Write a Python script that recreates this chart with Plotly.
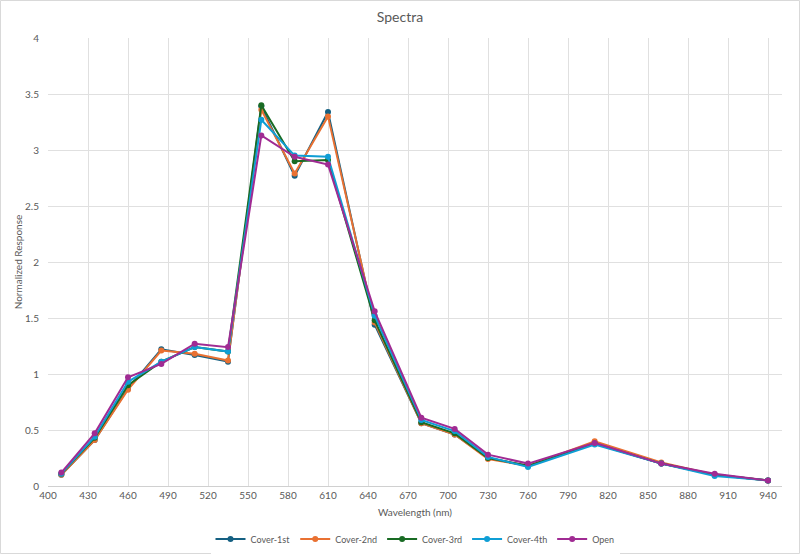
import plotly.graph_objects as go

wavelengths = [410, 435, 460, 485, 510, 535, 560, 585, 610, 645, 680, 705, 730, 760, 810, 860, 900, 940]

cover_1st = [0.10, 0.41, 0.87, 1.22, 1.17, 1.11, 3.39, 2.77, 3.34, 1.44, 0.56, 0.46, 0.25, 0.18, 0.38, 0.20, 0.10, 0.05]
cover_2nd = [0.10, 0.41, 0.86, 1.21, 1.18, 1.12, 3.36, 2.79, 3.30, 1.46, 0.56, 0.46, 0.24, 0.18, 0.40, 0.21, 0.10, 0.05]
cover_3rd = [0.11, 0.43, 0.90, 1.11, 1.24, 1.20, 3.40, 2.90, 2.91, 1.48, 0.57, 0.47, 0.25, 0.18, 0.38, 0.20, 0.10, 0.05]
cover_4th = [0.11, 0.44, 0.93, 1.11, 1.24, 1.20, 3.27, 2.95, 2.94, 1.52, 0.59, 0.49, 0.26, 0.17, 0.37, 0.20, 0.09, 0.05]
open_ = [0.12, 0.47, 0.97, 1.09, 1.27, 1.24, 3.13, 2.94, 2.87, 1.56, 0.61, 0.51, 0.28, 0.20, 0.385, 0.20, 0.11, 0.05]

series_names = ["Cover-1st", "Cover-2nd", "Cover-3rd", "Cover-4th", "Open"]
series_values = [cover_1st, cover_2nd, cover_3rd, cover_4th, open_]
colors = ["#156082", "#E97132", "#196B24", "#0F9ED5", "#A02B93"]

x_ticks = list(range(400, 941, 30))

fig = go.Figure()
for name, vals, c in zip(series_names, series_values, colors):
    fig.add_trace(go.Scatter(
        x=wavelengths, y=vals, name=name, mode="lines+markers",
        line=dict(color=c, width=2),
        marker=dict(color=c, size=6),
    ))

W, H = 800, 554
ml, mr, mt, mb = 48, 18, 38, 68
pw, ph = W - ml - mr, H - mt - mb

font_fam = "Lato, Open Sans, sans-serif"
fig.update_layout(
    width=W, height=H,
    margin=dict(l=ml, r=mr, t=mt, b=mb, autoexpand=False),
    paper_bgcolor="white", plot_bgcolor="white",
    font=dict(family=font_fam, color="#595959", size=10),
    title=dict(text="Spectra", x=0.5, xanchor="center", y=1 - 17 / H, yanchor="middle",
               font=dict(size=14, color="#595959")),
    showlegend=True,
    legend=dict(orientation="h", x=0.5, xanchor="center", yref="container", y=1 - 539 / H, yanchor="middle",
                font=dict(size=9, color="#595959"), itemwidth=30, tracegroupgap=0),
    xaxis=dict(range=[400, 950.5], tickvals=x_ticks, showgrid=True, gridcolor="#e0e0e0", gridwidth=1,
               zeroline=False, showline=True, linecolor="#d0d0d0", linewidth=1,
               ticks="", tickfont=dict(size=10, color="#595959"),
               title=dict(text="Wavelength (nm)", font=dict(size=10, color="#595959"), standoff=8)),
    yaxis=dict(range=[0, 4], dtick=0.5, showgrid=True, gridcolor="#e0e0e0", gridwidth=1,
               zeroline=False, showline=False, ticks="", ticklabelstandoff=8,
               tickfont=dict(size=10, color="#595959"),
               title=dict(text="Normalized Response", font=dict(size=10, color="#595959"), standoff=0)),
)

fig.add_shape(type="rect", xref="paper", yref="paper",
              x0=-ml / pw + 0.5 / pw, x1=(W - ml - 0.5) / pw,
              y0=-(mb - 0.5) / ph, y1=(ph + mt - 0.5) / ph,
              line=dict(color="#d9d9d9", width=1), fillcolor="rgba(0,0,0,0)", layer="below")

fig.write_html("out.html")
